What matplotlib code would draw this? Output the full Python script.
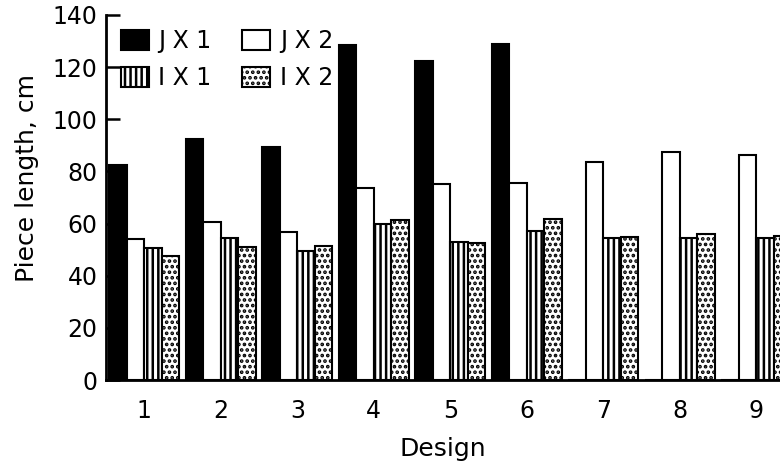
import numpy as np
import matplotlib
matplotlib.use("Agg")
import matplotlib.pyplot as plt

# ---------------- Data ----------------
designs = ["1", "2", "3", "4", "5", "6", "7", "8", "9"]
jx1 = [82.5, 92.3, 89.5, 128.5, 122.4, 129.0, 0, 0, 0]
jx2 = [54.0, 60.7, 56.9, 73.5, 75.2, 75.4, 83.5, 87.6, 86.3]
ix1 = [50.5, 54.6, 49.6, 59.7, 53.0, 57.3, 54.6, 54.6, 54.6]
ix2 = [47.6, 50.9, 51.4, 61.4, 52.7, 61.6, 55.0, 55.9, 55.2]
yticks = [0, 20, 40, 60, 80, 100, 120, 140]

plt.rcParams["hatch.color"] = "black"
plt.rcParams["hatch.linewidth"] = 1.8
plt.rcParams["font.family"] = "DejaVu Sans"

fig = plt.figure(figsize=(7.8, 4.71), dpi=100)
ax = fig.add_axes([106 / 780, 91 / 471, 1 - 106 / 780, 365 / 471])

x = np.arange(1, len(designs) + 1)
w = 0.228
lw = 1.5

b1 = ax.bar(x - 1.5 * w, jx1, w, color="black", edgecolor="black", linewidth=lw)
b2 = ax.bar(x - 0.5 * w, jx2, w, color="white", edgecolor="black", linewidth=lw)
b3 = ax.bar(x + 0.5 * w, ix1, w, color="white", edgecolor="black", linewidth=lw, hatch="|||")
b4 = ax.bar(x + 1.5 * w, ix2, w, color="white", edgecolor="black", linewidth=lw, hatch="...")

ax.set_xlim(0.5, 9.31)
ax.set_ylim(0, 140)

for s in ["top", "right"]:
    ax.spines[s].set_visible(False)
ax.spines["left"].set_linewidth(2)
ax.spines["bottom"].set_linewidth(2)

ax.set_yticks(yticks)
ax.set_yticklabels([str(v) for v in yticks], fontsize=17)
ax.tick_params(axis="y", direction="in", length=10, width=1.8, pad=6)
ax.set_xticks(x)
ax.set_xticklabels(designs, fontsize=17)
ax.tick_params(axis="x", length=0, pad=14)

ax.set_xlabel("Design", fontsize=18, labelpad=10)
fig.text(27 / 780, 1 - 178 / 471, "Piece length, cm", rotation=90,
         fontsize=18, ha="center", va="center")

# legend: row 1 JX1 / JX2, row 2 IX1 / IX2
ax.legend([b1, b3, b2, b4], ["J X 1", "I X 1", "J X 2", "I X 2"],
          ncol=2, loc="upper left", bbox_to_anchor=(-0.01, 1.02),
          frameon=False, fontsize=17, handlelength=1.2, handleheight=0.9,
          handletextpad=0.4, columnspacing=1.3, labelspacing=0.55)

fig.savefig("out.png", dpi=100)
